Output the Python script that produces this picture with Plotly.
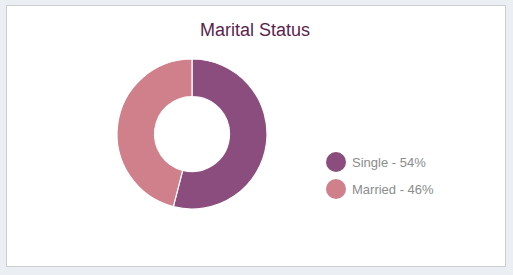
import plotly.graph_objects as go

labels = ["Single", "Married"]
values = [54, 46]
colors = ["#8b4d7d", "#d0808a"]
title = "Marital Status"

W, H = 513, 275

fig = go.Figure()
fig.add_trace(go.Pie(
    labels=labels, values=values, hole=0.5, sort=False, direction="clockwise",
    rotation=0, textinfo="none", hoverinfo="label+percent",
    marker=dict(colors=colors, line=dict(color="white", width=1.2)),
    domain=dict(x=[117/W, 267/W], y=[1-209/H, 1-59/H]),
    showlegend=False,
))

shapes = [dict(type="rect", xref="paper", yref="paper",
               x0=6.5/W, x1=505.5/W, y0=1-266.5/H, y1=1-5.5/H,
               line=dict(color="#c8cdd3", width=1), fillcolor="white", layer="below")]
annotations = [dict(text=title, x=255/W, y=1-30/H, xref="paper", yref="paper",
                    showarrow=False, xanchor="center", yanchor="middle",
                    font=dict(family="Liberation Sans, Arial", size=18, color="#5a1f4e"))]

total = sum(values)
for i, (lab, val, col) in enumerate(zip(labels, values, colors)):
    cy = 162 + i * 27
    r = 10
    shapes.append(dict(type="circle", xref="paper", yref="paper",
                       x0=(336-r)/W, x1=(336+r)/W, y0=1-(cy+r)/H, y1=1-(cy-r)/H,
                       fillcolor=col, line=dict(width=0)))
    annotations.append(dict(text=f"{lab} - {round(val*100/total)}%", x=350/W, y=1-cy/H,
                            xref="paper", yref="paper", showarrow=False,
                            xanchor="left", yanchor="middle",
                            font=dict(family="Liberation Sans, Arial", size=13, color="#8c8c8c")))

fig.update_layout(
    width=W, height=H, margin=dict(l=0, r=0, t=0, b=0),
    paper_bgcolor="#ebeef2", plot_bgcolor="#ebeef2",
    shapes=shapes, annotations=annotations,
)
fig.write_html("out.html")
